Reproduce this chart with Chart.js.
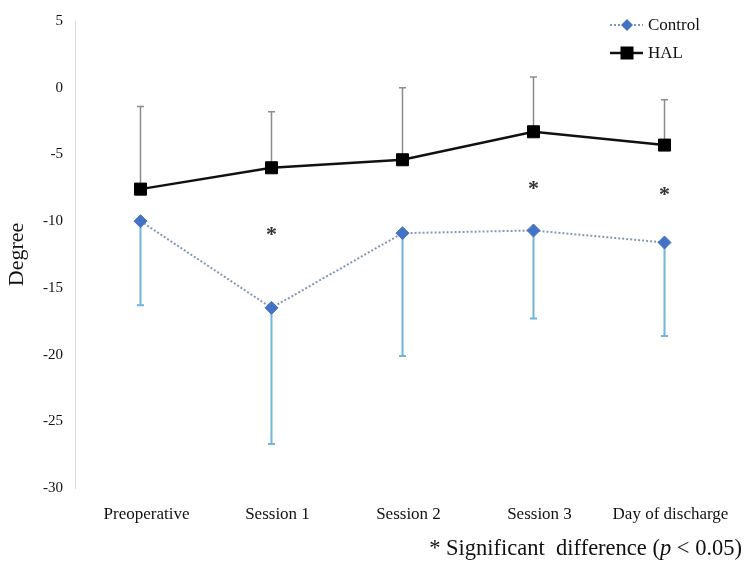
<!DOCTYPE html>
<html>
<head>
<meta charset="utf-8">
<script src="https://cdn.jsdelivr.net/npm/chart.js@4/dist/chart.umd.min.js"></script>
<style>
  html, body { margin: 0; padding: 0; background: #fff; }
  #wrap { position: relative; width: 750px; height: 579px; }
  #note { position: absolute; right: 8px; top: 535px; font-family: "Liberation Serif", "Times New Roman", serif; font-size: 22.5px; color: #111; white-space: pre; }
</style>
</head>
<body>
<div id="wrap">
  <canvas id="c" width="750" height="579"></canvas>
  <div id="note">* Significant  difference (<i>p</i> &lt; 0.05)</div>
</div>
<script>
const categories   = ["Preoperative", "Session 1", "Session 2", "Session 3", "Day of discharge"];
const controlMean  = [-10.0, -16.5, -10.9, -10.7, -11.6];
const controlLower = [-16.3, -26.7, -20.1, -17.3, -18.6];   // mean - SD (error bar ends)
const halMean      = [-7.6, -6.0, -5.4, -3.3, -4.3];
const halUpper     = [-1.4, -1.8, 0.0, 0.8, -0.9];          // mean + SD (error bar ends)
const yTicks       = [5, 0, -5, -10, -15, -20, -25, -30];
const sigCategories = ["Session 1", "Session 3", "Day of discharge"];
const sigY          = [-10.75, -7.3, -7.8];

const SERIF = '"Liberation Serif", "Times New Roman", serif';

function drawErrorBars(chart) {
  const ctx = chart.ctx;
  const x = chart.scales.x, y = chart.scales.y;
  const sets = [
    { mean: controlMean, end: controlLower, color: '#72B4DA', width: 2 },
    { mean: halMean, end: halUpper, color: '#8C8C8C', width: 1.5 }
  ];
  ctx.save();
  ctx.setLineDash([]);
  sets.forEach(s => {
    ctx.strokeStyle = s.color;
    ctx.lineWidth = s.width;
    s.mean.forEach((m, i) => {
      const px = x.getPixelForValue(i);
      const p0 = y.getPixelForValue(m);
      const p1 = y.getPixelForValue(s.end[i]);
      ctx.beginPath();
      ctx.moveTo(px, p0); ctx.lineTo(px, p1);
      ctx.moveTo(px - 3.5, p1); ctx.lineTo(px + 3.5, p1);
      ctx.stroke();
    });
  });
  ctx.restore();
}

function drawMarker(ctx, style, cx, cy, r) {
  ctx.beginPath();
  if (style === 'rectRot') {
    ctx.moveTo(cx, cy - r); ctx.lineTo(cx + r, cy); ctx.lineTo(cx, cy + r); ctx.lineTo(cx - r, cy);
  } else {
    ctx.rect(cx - r, cy - r, 2 * r, 2 * r);
  }
  ctx.closePath();
  ctx.fill();
}

const overlay = {
  id: 'overlay',
  beforeDatasetsDraw(chart) {
    drawErrorBars(chart);
  },
  afterDraw(chart) {
    const ctx = chart.ctx;
    const x = chart.scales.x, y = chart.scales.y;
    ctx.save();
    ctx.fillStyle = '#333';
    ctx.font = 'bold 22px ' + SERIF;
    ctx.textAlign = 'center';
    ctx.textBaseline = 'middle';
    sigCategories.forEach((c, i) => {
      const px = x.getPixelForValue(categories.indexOf(c));
      const py = y.getPixelForValue(sigY[i]);
      ctx.fillText('*', px, py + 4);
    });
    const lx = 610, ly = [25, 53], lr = [6, 6.5];
    chart.data.datasets.forEach((ds, k) => {
      const yy = ly[k];
      ctx.strokeStyle = ds.borderColor;
      ctx.lineWidth = ds.borderWidth;
      ctx.setLineDash(ds.borderDash || []);
      ctx.beginPath(); ctx.moveTo(lx, yy); ctx.lineTo(lx + 33, yy); ctx.stroke();
      ctx.setLineDash([]);
      ctx.fillStyle = ds.pointBackgroundColor;
      drawMarker(ctx, ds.pointStyle, lx + 17, yy, lr[k]);
      ctx.fillStyle = '#111';
      ctx.font = '17px ' + SERIF;
      ctx.textAlign = 'left';
      ctx.textBaseline = 'middle';
      ctx.fillText(ds.label, lx + 38, yy + 1);
    });
    ctx.restore();
  }
};

new Chart(document.getElementById('c'), {
  type: 'line',
  data: {
    labels: categories,
    datasets: [
      {
        label: 'Control',
        data: controlMean,
        borderColor: '#8497B0',
        borderWidth: 2,
        borderDash: [2, 2],
        pointStyle: 'rectRot',
        pointRadius: 6.5,
        pointBackgroundColor: '#4472C4',
        pointBorderColor: '#4472C4',
        pointBorderWidth: 1,
        tension: 0
      },
      {
        label: 'HAL',
        data: halMean,
        borderColor: '#111111',
        borderWidth: 2.5,
        pointStyle: 'rect',
        pointRadius: 8.5,
        pointBackgroundColor: '#000000',
        pointBorderColor: '#000000',
        pointBorderWidth: 1,
        tension: 0
      }
    ]
  },
  options: {
    responsive: false,
    animation: false,
    layout: { padding: { top: 20, right: 20, left: 0, bottom: 0 } },
    plugins: { legend: { display: false }, tooltip: { enabled: false } },
    scales: {
      x: {
        offset: true,
        grid: { display: false, drawTicks: false },
        border: { display: false },
        ticks: { color: '#111', font: { family: SERIF, size: 17 }, padding: 16, labelOffset: 6, maxRotation: 0, autoSkip: false },
        afterFit(scale) { scale.height = 91; }
      },
      y: {
        min: -30, max: 5,
        afterBuildTicks(scale) { scale.ticks = yTicks.map(v => ({ value: v })); },
        grid: { display: false, drawTicks: false },
        border: { display: true, color: '#D9D9D9', width: 1 },
        ticks: { color: '#111', font: { family: SERIF, size: 15 }, padding: 12 },
        title: { display: true, text: 'Degree', color: '#111', font: { family: SERIF, size: 22 }, padding: { top: 4, bottom: 0 } },
        afterFit(scale) { scale.width = 75; }
      }
    }
  },
  plugins: [overlay]
});
</script>
</body>
</html>
